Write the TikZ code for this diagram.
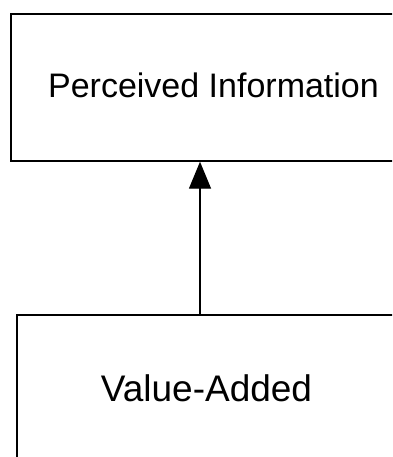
\documentclass[tikz,border=0pt]{standalone}
\usepackage{fontspec}
\setmainfont{Liberation Sans}
\usetikzlibrary{arrows.meta}
\tikzset{
  blockbox/.style={draw=black, line width=1.4pt, rectangle, inner sep=0pt},
  linkarrow/.style={line width=1.4pt, -{Triangle[width=22pt,length=27pt]}}
}
\begin{document}
\begin{tikzpicture}[x=1pt,y=-1pt]
  \useasboundingbox (0,0) rectangle (392,457);
  \clip (0,0) rectangle (392,457);
  \fill[white] (0,0) rectangle (392,457);
  % upper block
  \node[blockbox, minimum width=405pt, minimum height=147pt,
        font=\fontsize{34}{40}\selectfont] (perc) at (213.5,87.5)
        {\raisebox{4pt}{Perceived Information}};
  % lower block
  \node[blockbox, minimum width=379pt, minimum height=150pt,
        font=\fontsize{37}{44}\selectfont] (value) at (206.5,390)
        {\raisebox{3pt}{Value-Added}};
  % connector column
  \coordinate (col) at (200,0);
  \draw[linkarrow] (value.north -| col) -- (perc.south -| col);
\end{tikzpicture}
\end{document}
